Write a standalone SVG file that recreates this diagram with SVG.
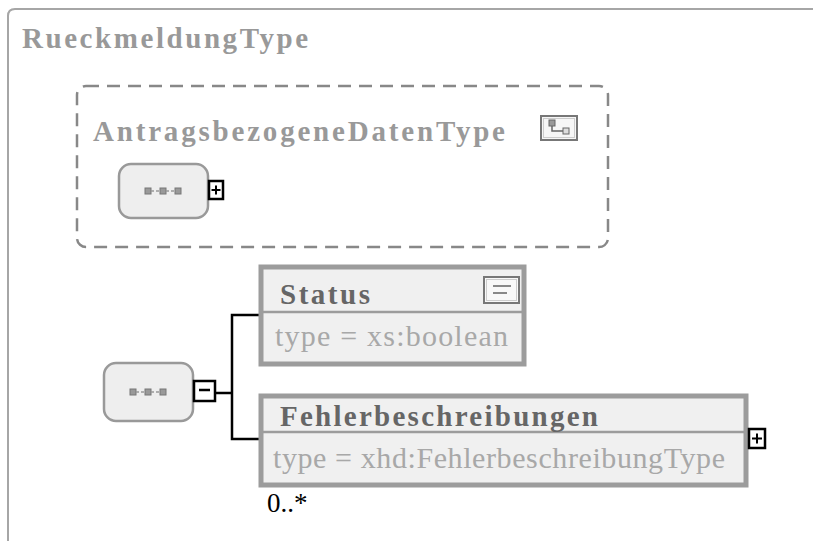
<svg xmlns="http://www.w3.org/2000/svg" width="813" height="541" viewBox="0 0 813 541">
<defs>
<style>
.frame{fill:none;stroke:#a6a6a6;stroke-width:2}
.title{font-family:"Liberation Serif",serif;font-weight:bold;font-size:29px;fill:#999}
.hdr{font-family:"Liberation Serif",serif;font-weight:bold;font-size:29px;fill:#666}
.typ{font-family:"Liberation Serif",serif;font-size:30px;fill:#a8a8a8}
.card{font-family:"Liberation Serif",serif;font-size:27px;fill:#000}
.seq{fill:#eeeeee;stroke:#999;stroke-width:2.5}
.elem{fill:#f0f0f0;stroke:#9c9c9c;stroke-width:5}
.sep{stroke:#9c9c9c;stroke-width:2.5}
.tog{fill:#fff;stroke:#000;stroke-width:2.5}
.conn{fill:none;stroke:#000;stroke-width:2.5}
.dsq{fill:#999;stroke:#777;stroke-width:1}
</style>
<g id="seqicon">
<rect class="dsq" x="0" y="0" width="6" height="6"/>
<rect class="dsq" x="15" y="0" width="6" height="6"/>
<rect class="dsq" x="30" y="0" width="6" height="6"/>
<line x1="6" y1="3" x2="15" y2="3" stroke="#999" stroke-width="1.5" stroke-dasharray="3 2"/>
<line x1="21" y1="3" x2="30" y2="3" stroke="#999" stroke-width="1.5" stroke-dasharray="3 2"/>
</g>
</defs>
<rect width="813" height="541" fill="#fff"/>
<g id="RueckmeldungType">
<path class="frame" d="M813,9 H15 Q8,9 8,16 V541"/>
<text class="title" x="22" y="48" textLength="286" lengthAdjust="spacing">RueckmeldungType</text>
</g>
<g id="AntragsbezogeneDatenType">
<rect x="77" y="86" width="531" height="161" rx="9" fill="none" stroke="#888" stroke-width="2.5" stroke-dasharray="13 8"/>
<text class="title" x="93" y="141" textLength="412" lengthAdjust="spacing">AntragsbezogeneDatenType</text>
<rect x="541" y="116" width="36" height="24" fill="#f6f6f6" stroke="#777" stroke-width="2"/>
<rect x="543.5" y="118.5" width="31" height="19" fill="none" stroke="#ccc" stroke-width="1"/>
<rect x="549" y="120" width="6" height="6" fill="#999" stroke="#666" stroke-width="1"/>
<path d="M552,126 V131 H563" fill="none" stroke="#666" stroke-width="1.5"/>
<rect x="563" y="128" width="6" height="6" fill="#ddd" stroke="#666" stroke-width="1"/>
</g>
<g id="seqTop">
<rect class="seq" x="119" y="164" width="89" height="54" rx="12"/>
<use href="#seqicon" x="145" y="188"/>
<rect class="tog" x="209" y="181" width="14" height="18"/>
<path d="M211.5,190 H220.5 M216,185.5 V194.5" stroke="#000" stroke-width="2"/>
</g>
<g id="connectors">
<path class="conn" d="M215,393 H232 M260,315 H232 V439 H260"/>
</g>
<g id="seqBottom">
<rect class="seq" x="104" y="363" width="89" height="58" rx="12"/>
<use href="#seqicon" x="130" y="389"/>
<rect class="tog" x="194" y="381" width="21" height="20"/>
<path d="M199,390 H210" stroke="#000" stroke-width="2.5"/>
</g>
<g id="Status">
<rect class="elem" x="261" y="267" width="263" height="97"/>
<line class="sep" x1="263" y1="312" x2="522" y2="312"/>
<text class="hdr" x="280" y="304" textLength="90" lengthAdjust="spacing">Status</text>
<rect x="484" y="277" width="35" height="26" fill="#f8f8f8" stroke="#777" stroke-width="2"/>
<rect x="486.5" y="279.5" width="30" height="21" fill="none" stroke="#ccc" stroke-width="1"/>
<path d="M493,286 H511 M493,293 H507" stroke="#888" stroke-width="2"/>
<text class="typ" x="275" y="346" textLength="233" lengthAdjust="spacing">type = xs:boolean</text>
</g>
<g id="Fehlerbeschreibungen">
<rect class="elem" x="261" y="396" width="485" height="89"/>
<line class="sep" x1="263" y1="432" x2="744" y2="432"/>
<text class="hdr" x="280" y="426" textLength="318" lengthAdjust="spacing">Fehlerbeschreibungen</text>
<text class="typ" x="273" y="468" textLength="452" lengthAdjust="spacing">type = xhd:FehlerbeschreibungType</text>
<rect class="tog" x="749" y="429" width="16" height="19"/>
<path d="M752,438.5 H762 M757,433.5 V443.5" stroke="#000" stroke-width="2"/>
<text class="card" x="267" y="512">0..*</text>
</g>
</svg>
